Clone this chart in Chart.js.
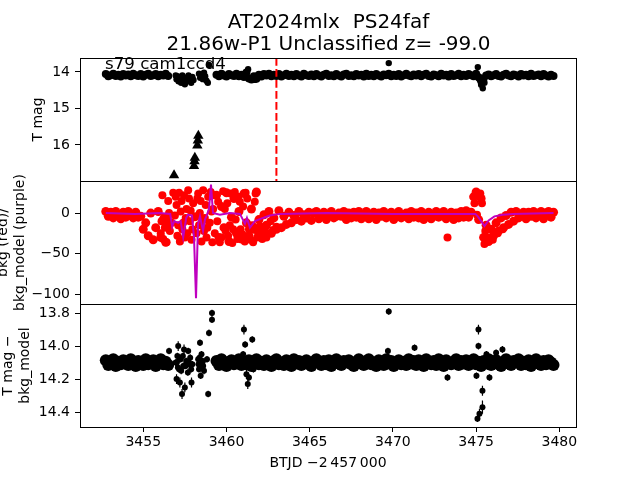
<!DOCTYPE html>
<html>
<head>
<meta charset="utf-8">
<script src="https://cdn.jsdelivr.net/npm/chart.js@4.4.1/dist/chart.umd.min.js"></script>
<style>
body{margin:0;background:#fff}
#wrap{position:relative;width:640px;height:480px;font-family:"DejaVu Sans",sans-serif;color:#000}
#wrap canvas{position:absolute;left:0;top:0}
#title{position:absolute;left:0;top:10px;width:657px;text-align:center;font-size:20px;line-height:22px;white-space:pre}
#ccd{position:absolute;left:105px;top:54px;font-size:16.67px;line-height:20px;white-space:pre}
</style>
</head>
<body>
<div id="wrap">
<canvas id="c1" width="640" height="480"></canvas>
<canvas id="c2" width="640" height="480"></canvas>
<canvas id="c3" width="640" height="480"></canvas>
<div id="title">AT2024mlx  PS24faf
21.86w-P1 Unclassified z= -99.0</div>
<div id="ccd">s79 cam1ccd4</div>
</div>
<script>
// axis ranges and tick labels
let xMin=3451.2, xMax=3481.0
let xTicks=[3455,3460,3465,3470,3475,3480]
let p1Min=13.62, p1Max=16.99, p1Ticks=[14,15,16]
let p2Min=-112, p2Max=39.5, p2Ticks=[0,-50,-100]
let p3Min=13.745, p3Max=14.49, p3Ticks=[13.8,14.0,14.2,14.4]
let discoveryT=3463.0

// time stamps, first orbit chunk and main chunk
let tA=[3452.75,3452.90,3453.05,3453.20,3453.35,3453.50,3453.65,3453.80,3453.95,3454.10,
3454.25,3454.40,3454.55,3454.70,3454.85,3455.00,3455.15,3455.30,3455.45,3455.60,
3455.75,3455.90,3456.05,3456.20,3456.35,3456.50]

let tB=[3459.40,3459.55,3459.70,3459.85,3460.00,3460.15,3460.30,3460.45,3460.60,3460.75,
3460.90,3461.05,3461.20,3461.35,3461.50,3461.65,3461.80,3461.95,3462.10,3462.25,
3462.40,3462.55,3462.70,3462.85,3463.00,3463.15,3463.30,3463.45,3463.60,3463.75,
3463.90,3464.05,3464.20,3464.35,3464.50,3464.65,3464.80,3464.95,3465.10,3465.25,
3465.40,3465.55,3465.70,3465.85,3466.00,3466.15,3466.30,3466.45,3466.60,3466.75,
3466.90,3467.05,3467.20,3467.35,3467.50,3467.65,3467.80,3467.95,3468.10,3468.25,
3468.40,3468.55,3468.70,3468.85,3469.00,3469.15,3469.30,3469.45,3469.60,3469.75,
3469.90,3470.05,3470.20,3470.35,3470.50,3470.65,3470.80,3470.95,3471.10,3471.25,
3471.40,3471.55,3471.70,3471.85,3472.00,3472.15,3472.30,3472.45,3472.60,3472.75,
3472.90,3473.05,3473.20,3473.35,3473.50,3473.65,3473.80,3473.95,3474.10,3474.25,
3474.40,3474.55,3474.70,3474.85,3475.00,3475.15,3475.30,3475.45,3475.60,3475.75,
3475.90,3476.05,3476.20,3476.35,3476.50,3476.65,3476.80,3476.95,3477.10,3477.25,
3477.40,3477.55,3477.70,3477.85,3478.00,3478.15,3478.30,3478.45,3478.60,3478.75,
3478.90,3479.05,3479.20,3479.35,3479.50,3479.65]

// panel 1: T mag
let magA=[14.06,14.12,14.09,14.05,14.11,14.08,14.13,14.06,14.10,14.07,
14.12,14.05,14.09,14.11,14.06,14.13,14.08,14.05,14.11,14.09,
14.06,14.12,14.08,14.10,14.05,14.11]

let magB=[14.08,14.12,14.05,14.10,14.13,14.06,14.09,14.11,14.05,14.12,
14.08,14.14,14.02,14.18,14.21,14.12,14.19,14.08,14.13,14.06,
14.10,14.05,14.12,14.08,14.11,14.06,14.13,14.09,14.05,14.11,
14.08,14.12,14.06,14.10,14.13,14.05,14.09,14.11,14.07,14.12,
14.06,14.10,14.13,14.08,14.05,14.11,14.09,14.12,14.06,14.10,
14.13,14.07,14.05,14.11,14.09,14.12,14.06,14.10,14.08,14.13,
14.05,14.11,14.08,14.12,14.06,14.10,14.13,14.07,14.09,14.05,
14.12,14.08,14.11,14.06,14.13,14.09,14.05,14.10,14.12,14.07,
14.10,14.06,14.12,14.08,14.05,14.11,14.13,14.07,14.09,14.12,
14.05,14.10,14.08,14.13,14.06,14.11,14.09,14.05,14.12,14.08,
14.11,14.06,14.09,14.12,14.05,14.15,14.25,14.18,14.10,14.07,
14.12,14.09,14.06,14.11,14.13,14.08,14.05,14.10,14.12,14.07,
14.09,14.13,14.06,14.10,14.08,14.12,14.05,14.11,14.09,14.07,
14.12,14.06,14.10,14.13,14.08,14.11]

let tMagX=[3456.95,3457.0,3457.05,3457.12,3457.2,3457.28,3457.35,3457.42,3457.5,3457.58,3457.65,3457.72,3457.8,3457.88,3457.95,3458.02,
3458.35,3458.42,3458.5,3458.58,3458.65,3458.72,3458.8,3458.88,3458.95,
3461.3,3461.55,3461.7,
3469.75,
3475.1,3475.2,3475.3,3475.4,3475.5]
let magX=[14.1,14.2,14.12,14.26,14.15,14.3,14.1,14.22,14.34,14.16,14.25,14.1,14.2,14.3,14.14,14.22,
14.05,14.16,14.08,14.2,14.02,14.12,14.24,14.3,13.81,
13.93,14.2,14.22,
13.76,
13.87,14.2,14.35,14.45,14.3]

// upper limits (triangles)
let tLim=[3456.85,3458.05,3458.08,3458.10,3458.25,3458.28,3458.31]
let limMag=[16.83,16.58,16.45,16.35,16.02,15.88,15.75]

// panel 2: bkg (red) and bkg_model (purple)
let bkgA=[2,-4,1,-6,2,-2,-7,1,-5,2,
-3,-6,1,-5,-4,-20,-12,-28,0,-33,
-18,2,-30,-8,-36,-15]

let bkgB=[22,-30,8,-18,25,-35,-5,18,-25,2,
-32,24,-12,-28,5,-20,26,-8,-24,-2,
-15,2,-25,-6,-20,3,-18,-4,-14,1,
-12,-3,-8,2,-10,-2,-6,1,-9,0,
2,-7,-3,1,-8,-1,2,-6,-4,0,
-4,2,-8,0,-6,1,-5,2,-7,-2,
2,-7,-2,1,-8,0,-4,2,-6,-1,
1,-8,-3,2,-6,-4,0,-7,2,-5,
0,-6,2,-8,-2,1,-7,-4,2,-5,
-1,2,-7,-3,1,-8,0,-6,2,-5,
3,-5,1,20,26,-8,18,-30,-15,-35,
-20,-28,-12,-22,-6,-18,-3,-14,1,-10,
2,-6,-2,1,-7,1,-4,2,-6,-1,
2,-7,0,2,-5,1]

let tBkgX=[3456.05,3456.1,3456.15,3456.2,3456.3,3456.4,3456.45,3456.5,3456.6,3456.7,3456.8,
3456.9,3456.95,3457.0,3457.05,3457.1,3457.15,3457.2,3457.25,3457.3,3457.35,3457.45,3457.5,3457.55,3457.6,3457.65,3457.75,3457.8,3457.85,3457.9,3458.0,
3458.1,3458.15,3458.2,3458.3,3458.35,3458.4,3458.45,3458.5,3458.6,3458.65,3458.7,3458.75,3458.8,3458.9,3459.0,3459.05,3459.1,3459.15,3459.2,3459.3,
3459.5,3459.6,3459.8,3459.95,3460.05,3460.2,3460.35,3460.5,3460.55,3460.7,3460.85,3461.0,3461.1,3461.25,3461.45,3461.55,3461.7,3461.85,3462.0,3462.15,3462.3,3462.5,3462.65,3462.8,3463.0,
3473.28,3474.9,3474.95,3475.05,3475.25,3475.35,3475.5,3475.55,3475.7,3475.85,3476.0,3476.3,3476.6,
3456.25,3456.55,3457.4,3457.7,3457.95,3458.25,3458.55,3458.85,3459.25,3459.45,3459.7,3459.9,3460.1,
3460.25,3460.4,3460.65,3460.8,3460.95,3461.15,3461.35,3461.6,3461.75,3461.9,3462.1,3462.4]
let bkgX=[-25,-10,22,-32,-18,-36,-5,15,-22,-12,25,
-3,20,10,-28,-15,25,-35,2,15,-20,22,-30,-6,5,-25,18,-10,3,-33,12,
-5,-4,-25,24,-15,0,15,-35,28,-22,-6,10,-30,20,-12,26,2,-36,5,-25,
14,-36,27,-22,12,-15,-37,26,-8,20,-20,8,-35,18,-33,-15,14,-30,-16,-32,-22,-25,-10,-21,-17,
-30,12,22,-2,24,12,-38,-22,-30,-20,-33,-25,-20,
-5,0,-12,28,-20,18,-10,-18,22,-10,-30,5,-28,
24,-20,-32,14,-26,25,-20,-36,24,-24,-28,-30]

let tModel=[3452.75,3454.5,3456.0,3456.62,3456.74,3456.86,3457.1,3457.25,3457.4,3457.58,
3457.69,3457.93,3458.05,3458.17,3458.29,3458.41,3458.59,3458.71,3458.83,3458.95,
3459.07,3459.19,3459.6,3460.2,3460.81,3461.11,3461.23,3461.41,3461.71,3462.2,
3462.61,3463.21,3466.0,3470.0,3474.95,3475.1,3475.3,3475.5,3475.75,3476.1,
3476.6,3477.2,3479.65]
let model=[0,-1,0,-1,-17,-10,-12,-10,-30,-6,
-2,-3,-30,-105,-14,-4,-22,-8,-2,5,
35,0,-2,0,-1,-13,-6,-18,-10,-6,
-3,-1,0,-1,-1,-4,-10,-16,-9,-4,
-2,-1,0]

// panel 3: T mag - bkg_model
let diffA=[14.085,14.115,14.10,14.08,14.12,14.095,14.11,14.085,14.10,14.115,
14.08,14.105,14.12,14.09,14.10,14.115,14.08,14.11,14.095,14.085,
14.12,14.10,14.08,14.11,14.095,14.115]

let diffB=[14.09,14.115,14.08,14.105,14.12,14.095,14.085,14.11,14.10,14.08,
14.115,14.095,14.11,14.085,14.12,14.10,14.08,14.11,14.095,14.115,
14.085,14.105,14.12,14.09,14.08,14.11,14.10,14.115,14.085,14.095,
14.12,14.08,14.105,14.09,14.115,14.10,14.085,14.11,14.12,14.095,
14.08,14.10,14.115,14.09,14.11,14.085,14.12,14.095,14.08,14.105,
14.115,14.09,14.10,14.085,14.11,14.12,14.095,14.08,14.105,14.115,
14.09,14.08,14.11,14.10,14.12,14.085,14.095,14.115,14.08,14.105,
14.09,14.12,14.10,14.085,14.11,14.095,14.115,14.08,14.105,14.09,
14.115,14.085,14.10,14.12,14.08,14.095,14.11,14.09,14.115,14.08,
14.105,14.12,14.085,14.10,14.11,14.095,14.08,14.115,14.09,14.105,
14.085,14.115,14.10,14.08,14.11,14.095,14.12,14.09,14.105,14.08,
14.115,14.10,14.085,14.11,14.12,14.095,14.08,14.105,14.115,14.09,
14.10,14.08,14.115,14.095,14.11,14.085,14.12,14.10,14.08,14.105,
14.115,14.09,14.11,14.085,14.10,14.115]

let tDiffX=[3456.55,3456.95,3457.0,3457.05,3457.1,3457.15,3457.2,3457.25,3457.33,3457.4,3457.45,3457.5,3457.55,3457.62,3457.7,3457.75,3457.82,3457.9,3457.95,
3458.3,3458.35,3458.41,3458.45,3458.5,3458.55,3458.6,3458.83,3458.9,3458.95,3459.13,3459.13,
3461.0,3461.05,3461.12,3461.2,3461.28,3461.35,3461.45,3461.55,3461.62,
3469.7,3469.75,3471.3,3473.28,3475.02,3475.08,3475.14,3475.14,3475.2,3475.38,3475.38,3475.62,3475.8,3476.2,3476.58,
3457.02,3457.08,3457.18,3457.28,3457.38,3457.48,3457.58,3457.68,3457.78,3457.88,3458.32,3458.38,3458.48,3458.58,3458.65]
let diffX=[14.03,14.1,14.2,14.06,14.0,14.14,14.22,14.08,14.29,14.12,14.02,14.25,14.12,14.1,14.03,14.1,14.07,14.22,14.11,
14.08,14.14,13.98,14.18,14.05,14.1,14.12,14.08,14.29,13.92,13.84,13.8,
14.05,13.9,13.99,14.17,14.23,14.19,14.1,13.96,14.14,
14.03,13.79,14.01,14.19,14.18,14.44,13.9,14.0,14.41,14.27,14.37,14.05,14.19,14.04,14.02,
14.1,14.13,14.08,14.15,14.06,14.12,14.09,14.16,14.11,14.14,14.11,14.07,14.13,14.09,14.15]
let diffErr=[0.02,0.02,0.03,0.02,0.03,0.02,0.03,0.02,0.03,0.02,0.03,0.03,0.02,0.03,0.02,0.02,0.02,0.03,0.02,
0.02,0.02,0.02,0.02,0.02,0.02,0.02,0.02,0.02,0.02,0.02,0.02,
0.02,0.03,0.02,0.03,0.03,0.02,0.03,0.02,0.02,
0.02,0.02,0.02,0.02,0.02,0.02,0.03,0.02,0.03,0.03,0.04,0.02,0.02,0.02,0.02,
0.02,0.02,0.02,0.02,0.02,0.02,0.02,0.02,0.02,0.02,0.02,0.02,0.02,0.02,0.02]

Chart.defaults.font.family="DejaVu Sans"
Chart.defaults.font.size=14
Chart.defaults.color="#000"

function pts(t,v){
return t.map((x,i)=>({x:x,y:v[i]}))
}

function errBars(t,v,e){
let out=[]
t.forEach((x,i)=>{
out.push({x:x,y:v[i]-e[i]},{x:x,y:v[i]+e[i]},{x:x,y:null})
})
return out
}

let frame={
id:"frame",
afterDraw(c){
let a=c.chartArea, ctx=c.ctx
ctx.save()
ctx.strokeStyle="#000"
ctx.lineWidth=1
ctx.strokeRect(a.left+0.5,a.top+0.5,a.right-a.left,a.bottom-a.top)
ctx.restore()
}
}

function yAxis(min,max,ticks,title,fmt,pad){
return {
min:min,max:max,
afterFit(s){s.width=80},
afterBuildTicks(s){s.ticks=ticks.map(v=>({value:v}))},
grid:{drawOnChartArea:false,tickLength:5,tickColor:"#000"},
border:{display:false},
ticks:{padding:5,callback:fmt},
title:{display:true,text:title,padding:{top:pad,bottom:0}}
}
}

function dots(data,color,r){
return {data:data,backgroundColor:color,borderWidth:0,pointRadius:r,pointHoverRadius:r}
}

function baseOpts(pad,x,y){
return {
animation:false,responsive:false,events:[],
layout:{padding:pad},
plugins:{legend:{display:false},tooltip:{enabled:false}},
scales:{x:x,y:y}
}
}

let hiddenX={type:"linear",min:xMin,max:xMax,display:false}

// panel 1
let y1=yAxis(p1Min,p1Max,p1Ticks,"T mag",v=>String(v),30)
y1.reverse=true
new Chart(document.getElementById("c1"),{
type:"scatter",
data:{datasets:[
{data:[{x:discoveryT,y:p1Min},{x:discoveryT,y:p1Max}],showLine:true,borderColor:"#ff0000",borderWidth:2,borderDash:[7.7,3.3],pointRadius:0},
dots(pts(tA,magA),"#000",4),
dots(pts(tB,magB),"#000",4),
dots(pts(tMagX,magX),"#000",3.2),
Object.assign(dots(pts(tLim,limMag),"#000",6),{pointStyle:"triangle"})
]},
options:baseOpts({left:0,right:64,top:58,bottom:299},hiddenX,y1),
plugins:[frame]
})

// panel 2
let y2=yAxis(p2Min,p2Max,p2Ticks,["bkg (red)/","bkg_model (purple)"],v=>v<0?"\u2212"+(-v):String(v),-5)
new Chart(document.getElementById("c2"),{
type:"scatter",
data:{datasets:[
{data:pts(tModel,model),showLine:true,borderColor:"#bf00bf",borderWidth:2,pointRadius:0},
dots(pts(tA,bkgA),"#ff0000",4.5),
dots(pts(tB,bkgB),"#ff0000",4.5),
dots(pts(tBkgX,bkgX),"#ff0000",4)
]},
options:baseOpts({left:0,right:64,top:181,bottom:176},hiddenX,y2),
plugins:[frame]
})

// panel 3
let y3=yAxis(p3Min,p3Max,p3Ticks,["T mag \u2212","bkg_model"],v=>v.toFixed(1),0)
y3.reverse=true
let x3={
type:"linear",min:xMin,max:xMax,
afterFit(s){s.height=53},
afterBuildTicks(s){s.ticks=xTicks.map(v=>({value:v}))},
grid:{drawOnChartArea:false,tickLength:5,tickColor:"#000"},
border:{display:false},
ticks:{padding:2,maxRotation:0,callback:v=>String(v)},
title:{display:true,text:"BTJD \u22122\u2009457\u2009000",padding:{top:0,bottom:8.6}}
}
new Chart(document.getElementById("c3"),{
type:"scatter",
data:{datasets:[
{data:errBars(tDiffX,diffX,diffErr),showLine:true,spanGaps:false,borderColor:"#000",borderWidth:1.2,pointRadius:0},
dots(pts(tA,diffA),"#000",6),
dots(pts(tB,diffB),"#000",6),
dots(pts(tDiffX,diffX),"#000",3)
]},
options:baseOpts({left:0,right:64,top:304,bottom:0},x3,y3),
plugins:[frame]
})
</script>
</body>
</html>
